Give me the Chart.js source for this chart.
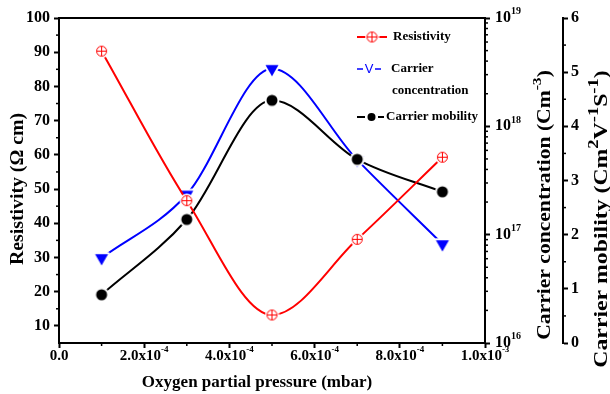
<!DOCTYPE html>
<html>
<head>
<meta charset="utf-8">
<script src="https://cdn.jsdelivr.net/npm/chart.js@4"></script>
<style>
  html, body { margin: 0; padding: 0; background: #fff; }
  canvas { display: block; }
</style>
</head>
<body>
<canvas id="grafico" width="610" height="394"></canvas>
<script>
// presion parcial de oxigeno (mbar)
const presion = [1e-4, 3e-4, 5e-4, 7e-4, 9e-4];
// resistividad (ohm cm)
const resistividad = [90.3, 46.6, 13.2, 35.3, 59.3];
// concentracion de portadores (cm^-3)
const concentracion = [6.1e16, 2.35e17, 3.4e18, 4.9e17, 8.2e16];
// movilidad (cm^2/Vs)
const movilidad = [0.89, 2.28, 4.48, 3.39, 2.79];

// etiquetas del eje x: mantisa y exponente
const xTicks = [0, 2e-4, 4e-4, 6e-4, 8e-4, 1e-3];
const xMantisa = ['0.0', '2.0x10', '4.0x10', '6.0x10', '8.0x10', '1.0x10'];
const xExpo = ['', '-4', '-4', '-4', '-4', '-3'];
// decadas del eje logaritmico
const logExpo = [16, 17, 18, 19];

const graficoCanvas = document.getElementById('grafico');
const FAM = '"Liberation Serif", "Times New Roman", serif';
const fuente = (t) => `bold ${t}px ${FAM}`;

// marcadores con un halo blanco para que la linea no los toque
function marcaCruz(r, color) {
    const h = 2, s = Math.ceil((r + h) * 2) + 1, m = s / 2;
    const c = document.createElement('canvas');
    c.width = c.height = s;
    const g = c.getContext('2d');
    g.fillStyle = '#fff';
    g.beginPath(); g.arc(m, m, r + h, 0, Math.PI * 2); g.fill();
    g.strokeStyle = color; g.lineWidth = 1;
    g.beginPath(); g.arc(m, m, r, 0, Math.PI * 2); g.stroke();
    g.beginPath();
    g.moveTo(m - r, m); g.lineTo(m + r, m);
    g.moveTo(m, m - r); g.lineTo(m, m + r);
    g.stroke();
    return c;
}

function marcaTriangulo(r, color) {
    const h = 2, s = Math.ceil((r + h) * 2) + 1, m = s / 2;
    const c = document.createElement('canvas');
    c.width = c.height = s;
    const g = c.getContext('2d');
    const w = r * Math.sqrt(3) / 2;
    g.beginPath();
    g.moveTo(m - w, m - r / 2);
    g.lineTo(m + w, m - r / 2);
    g.lineTo(m, m + r);
    g.closePath();
    g.strokeStyle = '#fff'; g.lineWidth = h * 2; g.lineJoin = 'round';
    g.stroke();
    g.fillStyle = color;
    g.fill();
    return c;
}

function marcaCirculo(r, color) {
    const h = 2, s = Math.ceil((r + h) * 2) + 1, m = s / 2;
    const c = document.createElement('canvas');
    c.width = c.height = s;
    const g = c.getContext('2d');
    g.fillStyle = '#fff';
    g.beginPath(); g.arc(m, m, r + h, 0, Math.PI * 2); g.fill();
    g.fillStyle = color;
    g.beginPath(); g.arc(m, m, r, 0, Math.PI * 2); g.fill();
    return c;
}

const mRes = marcaCruz(5, '#ff0000');
const mCon = marcaTriangulo(7.5, '#0000ff');
const mMov = marcaCirculo(5.5, '#000000');

const puntos = (ys) => presion.map((x, i) => ({ x: x, y: ys[i] }));

// escribe texto con partes en superindice
function escribir(ctx, partes, x, y, align, tam, escSup) {
    const tamSup = Math.round(tam * (escSup || 0.62));
    let total = 0;
    const anchos = partes.map(p => {
        ctx.font = fuente(p.sup ? tamSup : tam);
        const w = ctx.measureText(p.t).width;
        total += w;
        return w;
    });
    let cx = align === 'center' ? x - total / 2 : (align === 'right' ? x - total : x);
    ctx.textAlign = 'left';
    ctx.textBaseline = 'middle';
    partes.forEach((p, i) => {
        ctx.font = fuente(p.sup ? tamSup : tam);
        ctx.fillText(p.t, cx, p.sup ? y - tam * 0.4 : y);
        cx += anchos[i];
    });
}
const n = (t) => ({ t: t });
const s = (t) => ({ t: t, sup: true });

function rayita(ctx, x1, y1, x2, y2, ancho) {
    ctx.lineWidth = ancho;
    ctx.beginPath();
    ctx.moveTo(x1, y1);
    ctx.lineTo(x2, y2);
    ctx.stroke();
}

// titulo girado, estirado a lo largo del texto
function vertical(ctx, partes, x, y, tam, estira, escSup) {
    ctx.save();
    ctx.translate(x, y);
    ctx.rotate(-Math.PI / 2);
    ctx.scale(estira, 1);
    escribir(ctx, partes, 0, 0, 'center', tam, escSup);
    ctx.restore();
}

const decorado = {
    id: 'decorado',
    afterDraw(chart) {
        const ctx = chart.ctx;
        const a = chart.chartArea;
        const sx = chart.scales.x;
        const sy = chart.scales.y;
        const sc = chart.scales.yC;
        const sm = chart.scales.yM;
        ctx.save();
        ctx.strokeStyle = '#000';
        ctx.fillStyle = '#000';

        // borde superior del marco
        rayita(ctx, a.left - 1, a.top, a.right + 1, a.top, 2);

        // ticks menores
        for (let v = 1e-4; v < 1e-3; v += 2e-4) {
            const x = sx.getPixelForValue(v);
            rayita(ctx, x, a.bottom, x, a.bottom + 3, 1.5);
        }
        for (let v = 15; v < 100; v += 10) {
            const y = sy.getPixelForValue(v);
            rayita(ctx, a.left, y, a.left - 3, y, 1.5);
        }
        for (let e = 16; e < 19; e++) {
            for (let k = 2; k < 10; k++) {
                const y = sc.getPixelForValue(k * Math.pow(10, e));
                rayita(ctx, sc.left, y, sc.left + 3, y, 1.5);
            }
        }
        for (let v = 0.5; v < 6; v += 1) {
            const y = sm.getPixelForValue(v);
            rayita(ctx, sm.left, y, sm.left + 3, y, 1.5);
        }

        // etiquetas del eje x
        xTicks.forEach((v, i) => {
            const partes = xExpo[i] ? [n(xMantisa[i]), s(xExpo[i])] : [n(xMantisa[i])];
            escribir(ctx, partes, sx.getPixelForValue(v), 356, 'center', 15);
        });
        // etiquetas del eje logaritmico
        logExpo.forEach(e => {
            escribir(ctx, [n('10'), s(String(e))], sc.left + 10, sc.getPixelForValue(Math.pow(10, e)), 'left', 16);
        });

        // titulos
        escribir(ctx, [n('Oxygen partial pressure (mbar)')], 257, 383, 'center', 17);
        vertical(ctx, [n('Resistivity (\u03A9 cm)')], 18, 189, 18, 1.1);
        vertical(ctx, [n('Carrier concentration (Cm'), s('-3'), n(')')], 545, 205, 18, 1.2, 0.72);
        vertical(ctx, [n('Carrier mobility (Cm'), s('2'), n('V'), s('-1'), n('S'), s('-1'), n(')')], 602, 219, 18, 1.32, 0.75);

        // leyenda
        ctx.strokeStyle = '#ff0000';
        rayita(ctx, 357, 37, 366, 37, 2);
        rayita(ctx, 378, 37, 387, 37, 2);
        ctx.drawImage(mRes, 372 - mRes.width / 2, 37 - mRes.height / 2);

        ctx.strokeStyle = '#0000ff';
        ctx.fillStyle = '#0000ff';
        rayita(ctx, 357, 69, 363, 69, 1.5);
        rayita(ctx, 375, 69, 381, 69, 1.5);
        ctx.font = '13px "Liberation Sans", sans-serif';
        ctx.textAlign = 'center';
        ctx.textBaseline = 'middle';
        ctx.fillText('V', 369, 69);

        ctx.strokeStyle = '#000';
        ctx.fillStyle = '#000';
        rayita(ctx, 357, 117, 365, 117, 2);
        rayita(ctx, 378, 117, 384, 117, 2);
        ctx.beginPath(); ctx.arc(371.5, 117, 4, 0, Math.PI * 2); ctx.fill();

        escribir(ctx, [n('Resistivity')], 393, 37, 'left', 13);
        escribir(ctx, [n('Carrier')], 391, 69, 'left', 13);
        escribir(ctx, [n('concentration')], 392, 91, 'left', 13);
        escribir(ctx, [n('Carrier mobility')], 386, 117, 'left', 13);

        ctx.restore();
    }
};

const ejeGrid = {
    display: true,
    drawOnChartArea: false,
    drawTicks: true,
    tickLength: 5,
    tickWidth: 2,
    tickColor: '#000'
};
const ejeBorde = { display: true, color: '#000', width: 2 };

const chart = new Chart(graficoCanvas, {
    type: 'line',
    data: {
        datasets: [{
            label: 'Resistivity',
            data: puntos(resistividad),
            yAxisID: 'y',
            borderColor: '#ff0000',
            borderWidth: 2,
            cubicInterpolationMode: 'monotone',
            pointStyle: mRes,
            fill: false
        }, {
            label: 'Carrier mobility',
            data: puntos(movilidad),
            yAxisID: 'yM',
            borderColor: '#000000',
            borderWidth: 2,
            cubicInterpolationMode: 'monotone',
            pointStyle: mMov,
            fill: false
        }, {
            label: 'Carrier concentration',
            data: puntos(concentracion),
            yAxisID: 'yC',
            borderColor: '#0000ff',
            borderWidth: 2,
            cubicInterpolationMode: 'monotone',
            pointStyle: mCon,
            fill: false
        }]
    },
    options: {
        responsive: false,
        animation: false,
        layout: { padding: { top: 18, left: 0, right: 0, bottom: 0 } },
        plugins: {
            legend: { display: false },
            tooltip: { enabled: false }
        },
        scales: {
            x: {
                type: 'linear',
                position: 'bottom',
                min: 0,
                max: 0.001,
                grid: ejeGrid,
                border: ejeBorde,
                ticks: { display: false, stepSize: 0.0002 },
                afterFit: (sc) => { sc.height = 51; }
            },
            y: {
                type: 'linear',
                position: 'left',
                min: 5,
                max: 100,
                grid: ejeGrid,
                border: ejeBorde,
                ticks: {
                    stepSize: 10,
                    includeBounds: false,
                    color: '#000',
                    padding: 4,
                    font: { family: FAM, size: 16, weight: 'bold' }
                },
                afterFit: (sc) => { sc.width = 59; }
            },
            yC: {
                type: 'logarithmic',
                position: 'right',
                weight: 0,
                min: 1e16,
                max: 1e19,
                grid: Object.assign({}, ejeGrid, {
                    tickColor: (c) => {
                        const l = Math.log10(c.tick.value);
                        return Math.abs(l - Math.round(l)) < 1e-6 ? '#000' : 'rgba(0,0,0,0)';
                    }
                }),
                border: ejeBorde,
                ticks: { display: false },
                afterFit: (sc) => { sc.width = 78; }
            },
            yM: {
                type: 'linear',
                position: 'right',
                weight: 1,
                min: 0,
                max: 6,
                grid: ejeGrid,
                border: ejeBorde,
                ticks: {
                    stepSize: 1,
                    color: '#000',
                    padding: 3,
                    font: { family: FAM, size: 16, weight: 'bold' }
                },
                afterFit: (sc) => { sc.width = 47; }
            }
        }
    },
    plugins: [decorado]
});
</script>
</body>
</html>
